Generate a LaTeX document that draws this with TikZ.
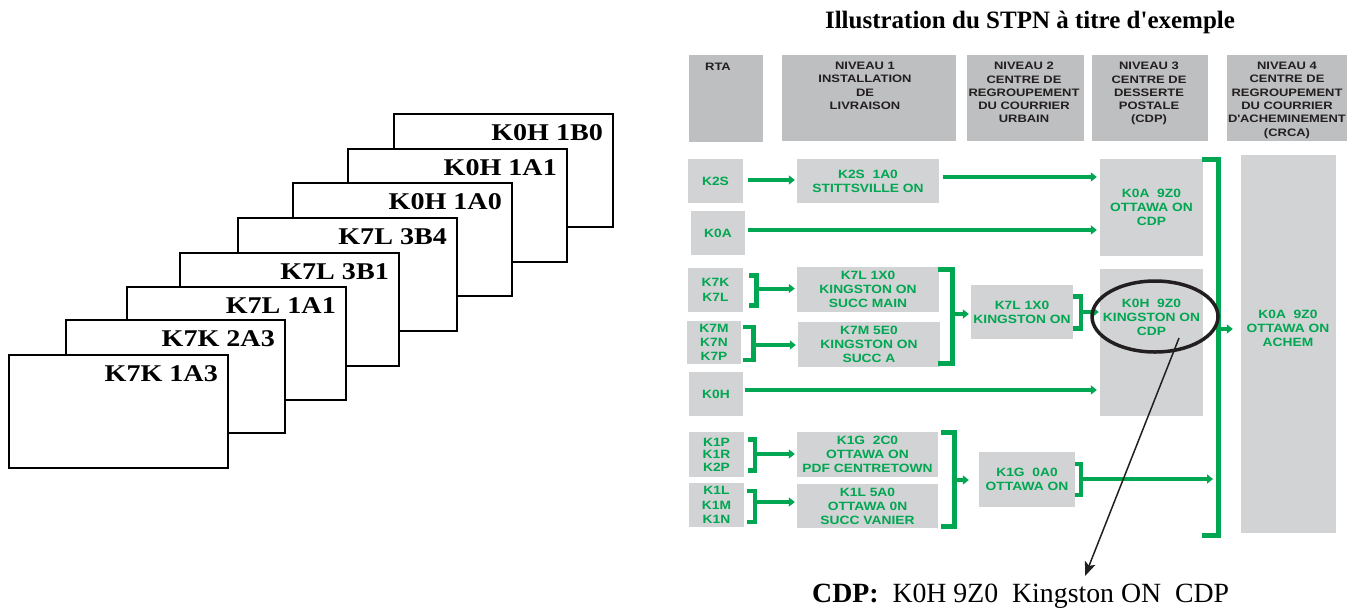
\documentclass[tikz,border=0pt]{standalone}
\usepackage{fontspec}
\setmainfont{Liberation Serif}
\newfontfamily\gsans{Liberation Sans}[FakeStretch=1.15]
\newfontfamily\hsans{Liberation Sans}[FakeStretch=1.2]
\newfontfamily\cserif{Liberation Serif}[FakeStretch=1.17]
\usetikzlibrary{arrows.meta,shapes.geometric,calc}
\definecolor{hgray}{RGB}{190,191,193}
\definecolor{lgray}{RGB}{209,211,212}
\definecolor{pgreen}{RGB}{0,166,81}
\definecolor{dark}{RGB}{35,31,32}
\newcommand\mybox[7]{\node[#2, minimum width={(#5-#3)*1pt}, minimum height={(#6-#4)*1pt}] (#1) at ({(#3+#5)/2},{(#4+#6)/2}) {#7};}
\tikzset{
  gb/.style={fill=lgray, inner sep=0pt, text=pgreen, align=center, font=\gsans\bfseries\fontsize{12}{14}\selectfont},
  hb/.style={fill=hgray, inner sep=0pt},
  htxt/.style={anchor=north, inner sep=0pt, align=center, text=dark, font=\hsans\bfseries\fontsize{10.8}{13.3}\selectfont},
  garr/.style={draw=pgreen, line width=4pt, -{Triangle[length=6pt,width=9pt]}},
  gbr/.style={draw=pgreen, line width=4.5pt, line join=miter},
  gbrbig/.style={draw=pgreen, line width=5pt, line join=miter},
  card/.style={draw=black, fill=white, line width=2pt, inner sep=0pt, anchor=north west, minimum width=219pt, minimum height=113pt},
  clabel/.style={anchor=base east, inner sep=0pt, font=\cserif\bfseries\fontsize{24}{28}\selectfont},
}
\begin{document}
\begin{tikzpicture}[x=1pt,y=-1pt]
\useasboundingbox (0,0) rectangle (1354,611);
% ---------- stacked cards ----------
\node[card] (c8) at (393,113) {};
\node[clabel] (l8) at ($(c8.north east)+(-11,27)$) {K0H 1B0};
\node[card] (c7) at (347,148) {};
\node[clabel] (l7) at ($(c7.north east)+(-11,27)$) {K0H 1A1};
\node[card] (c6) at (292,182) {};
\node[clabel] (l6) at ($(c6.north east)+(-11,27)$) {K0H 1A0};
\node[card] (c5) at (237,217) {};
\node[clabel] (l5) at ($(c5.north east)+(-11,27)$) {K7L 3B4};
\node[card] (c4) at (179,252) {};
\node[clabel] (l4) at ($(c4.north east)+(-11,27)$) {K7L 3B1};
\node[card] (c3) at (126,286) {};
\node[clabel] (l3) at ($(c3.north east)+(-11,27)$) {K7L 1A1};
\node[card] (c2) at (65,319) {};
\node[clabel] (l2) at ($(c2.north east)+(-11,27)$) {K7K 2A3};
\node[card] (c1) at (8,354) {};
\node[clabel] (l1) at ($(c1.north east)+(-11,27)$) {K7K 1A3};
% ---------- title ----------
\node[anchor=base, inner sep=0pt, font=\bfseries\fontsize{25}{28}\selectfont] (title) at (1030,28) {Illustration du STPN à titre d\textquotesingle exemple};
% ---------- header ----------
\mybox{hrta}{hb}{689}{55}{763}{142}{}
\mybox{hn1}{hb}{782}{55}{956}{141}{}
\mybox{hn2}{hb}{967}{55}{1084}{141}{}
\mybox{hn3}{hb}{1092}{55}{1208}{141}{}
\mybox{hn4}{hb}{1227}{55}{1347}{141}{}
\node[htxt] (trta) at (718,62.5) {RTA};
\node[htxt] (tn1) at (865,62) {NIVEAU 1\\INSTALLATION\\DE\\LIVRAISON};
\node[htxt] (tn2) at (1024,62) {NIVEAU 2\\CENTRE DE\\REGROUPEMENT\\DU COURRIER\\URBAIN};
\node[htxt] (tn3) at (1149,62) {NIVEAU 3\\CENTRE DE\\DESSERTE\\POSTALE\\(CDP)};
\node[htxt] (tn4) at (1287,62) {NIVEAU 4\\CENTRE DE\\REGROUPEMENT\\DU COURRIER\\D\textquotesingle ACHEMINEMENT\\(CRCA)};
% ---------- RTA column ----------
\mybox{rK2S}{gb}{688}{159}{743}{203}{K2S}
\mybox{rK0A}{gb}{691}{211}{745}{255}{K0A}
\mybox{rK7K}{gb,font=\gsans\bfseries\fontsize{12}{15.5}\selectfont}{688}{268}{743}{312}{K7K\\K7L}
\mybox{rK7M}{gb}{687}{321}{741}{364}{K7M\\K7N\\K7P}
\mybox{rK0H}{gb}{689}{372}{743}{416}{K0H}
\mybox{rK1P}{gb,font=\gsans\bfseries\fontsize{12}{12.5}\selectfont}{689}{432}{744}{477}{K1P\\K1R\\K2P}
\mybox{rK1L}{gb,font=\gsans\bfseries\fontsize{12}{14.5}\selectfont}{689}{483}{744}{527}{K1L\\K1M\\K1N}
% ---------- level 1 ----------
\mybox{lK2S}{gb}{797}{159}{939}{203}{K2S\ \ 1A0\\STITTSVILLE ON}
\mybox{lK7L}{gb}{797}{267}{939}{312}{K7L 1X0\\KINGSTON ON\\SUCC MAIN}
\mybox{lK7M}{gb}{798}{322}{940}{367}{K7M 5E0\\KINGSTON ON\\SUCC A}
\mybox{lK1G}{gb}{797}{432}{938}{477}{K1G\ \ 2C0\\OTTAWA ON\\PDF CENTRETOWN}
\mybox{lK1L}{gb}{797}{484}{938}{528}{K1L 5A0\\OTTAWA 0N\\SUCC VANIER}
% ---------- level 2 ----------
\mybox{mK7L}{gb}{971}{285}{1073}{339}{K7L 1X0\\KINGSTON ON}
\mybox{mK1G}{gb}{979}{452}{1075}{507}{K1G\ \ 0A0\\OTTAWA ON}
% ---------- level 3 ----------
\mybox{cK0A}{gb}{1100}{159}{1203}{256}{K0A\ \ 9Z0\\OTTAWA ON\\CDP}
\mybox{cK0H}{gb}{1100}{269}{1203}{416}{}
\node[gb,fill=none] (tK0H) at (1151.5,317.5) {K0H\ \ 9Z0\\KINGSTON ON\\CDP};
% ---------- level 4 ----------
\mybox{aK0A}{gb}{1241}{155}{1336}{533}{}
\node[gb,fill=none] (tK0Aa) at (1288,328.5) {K0A\ \ 9Z0\\OTTAWA ON\\ACHEM};
% ---------- brackets ----------
\draw[gbr] (749,275.5) -- (756.5,275.5) -- (756.5,305.5) -- (749,305.5);
\coordinate (bK7K) at (756.5,288.5);
\draw[gbr] (743,327) -- (753.5,327) -- (753.5,360) -- (743,360);
\coordinate (bK7M) at (753.5,345);
\draw[gbrbig] (938,269) -- (952.5,269) -- (952.5,363.5) -- (938,363.5);
\coordinate (bL1a) at (952.5,314);
\draw[gbr] (1073,296.5) -- (1081,296.5) -- (1081,328.5) -- (1073,328.5);
\coordinate (bL2a) at (1081,312);
\draw[gbr] (748,439.5) -- (755,439.5) -- (755,470.5) -- (748,470.5);
\coordinate (bK1P) at (755,454);
\draw[gbr] (747,491) -- (755,491) -- (755,522) -- (747,522);
\coordinate (bK1L) at (755,502);
\draw[gbrbig] (941,432.5) -- (954,432.5) -- (954,526.5) -- (941,526.5);
\coordinate (bL1b) at (954,480);
\draw[gbr] (1075,464) -- (1081,464) -- (1081,495) -- (1075,495);
\coordinate (bL2b) at (1081,479);
\draw[gbrbig] (1202,159) -- (1218,159) -- (1218,535) -- (1202,535);
\coordinate (bR) at (1218,329);
% ---------- green arrows ----------
\draw[garr, shorten <=5pt, shorten >=2pt] (rK2S.east |- 0,180) -- (lK2S.west |- 0,180);
\draw[garr, shorten <=4pt, shorten >=3pt] (lK2S.east |- 0,177) -- (cK0A.west |- 0,177);
\draw[garr, shorten <=3pt, shorten >=3pt] (rK0A.east |- 0,230) -- (cK0A.west |- 0,230);
\draw[garr, shorten >=2pt] (bK7K) -- (lK7L.west |- bK7K);
\draw[garr, shorten >=2pt] (bK7M) -- (lK7M.west |- bK7M);
\draw[garr, shorten >=2pt] (bL1a) -- (mK7L.west |- bL1a);
\draw[garr, shorten >=1pt] (bL2a) -- (cK0H.west |- bL2a);
\draw[garr, shorten <=2pt, shorten >=3pt] (rK0H.east |- 0,390) -- (cK0H.west |- 0,390);
\draw[garr, shorten >=2pt] (bK1P) -- (lK1G.west |- bK1P);
\draw[garr, shorten >=2pt] (bK1L) -- (lK1L.west |- bK1L);
\draw[garr, shorten >=10pt] (bL1b) -- (mK1G.west |- bL1b);
\draw[garr, shorten >=5pt] (bL2b) -- (bR |- bL2b);
\draw[garr, shorten >=8pt] (bR) -- (aK0A.west |- bR);
% ---------- ellipse and callout ----------
\node[draw=dark, ellipse, line width=3.5pt, minimum width=126pt, minimum height=71pt, inner sep=0pt] (ell) at (1155,316.5) {};
\node[anchor=base west, inner sep=0pt, font=\fontsize{27.8}{30}\selectfont] (cdp) at (812,602.5) {\textbf{CDP:}\ \ K0H 9Z0\ \ Kingston ON\ \ CDP};
\coordinate (ellp) at (1179,338);
\coordinate (cdptip) at (1085,576);
\draw[dark, line width=1.5pt, -{Stealth[length=14pt,width=11pt,inset=3pt]}] (ellp) -- (cdptip);
\end{tikzpicture}
\end{document}
